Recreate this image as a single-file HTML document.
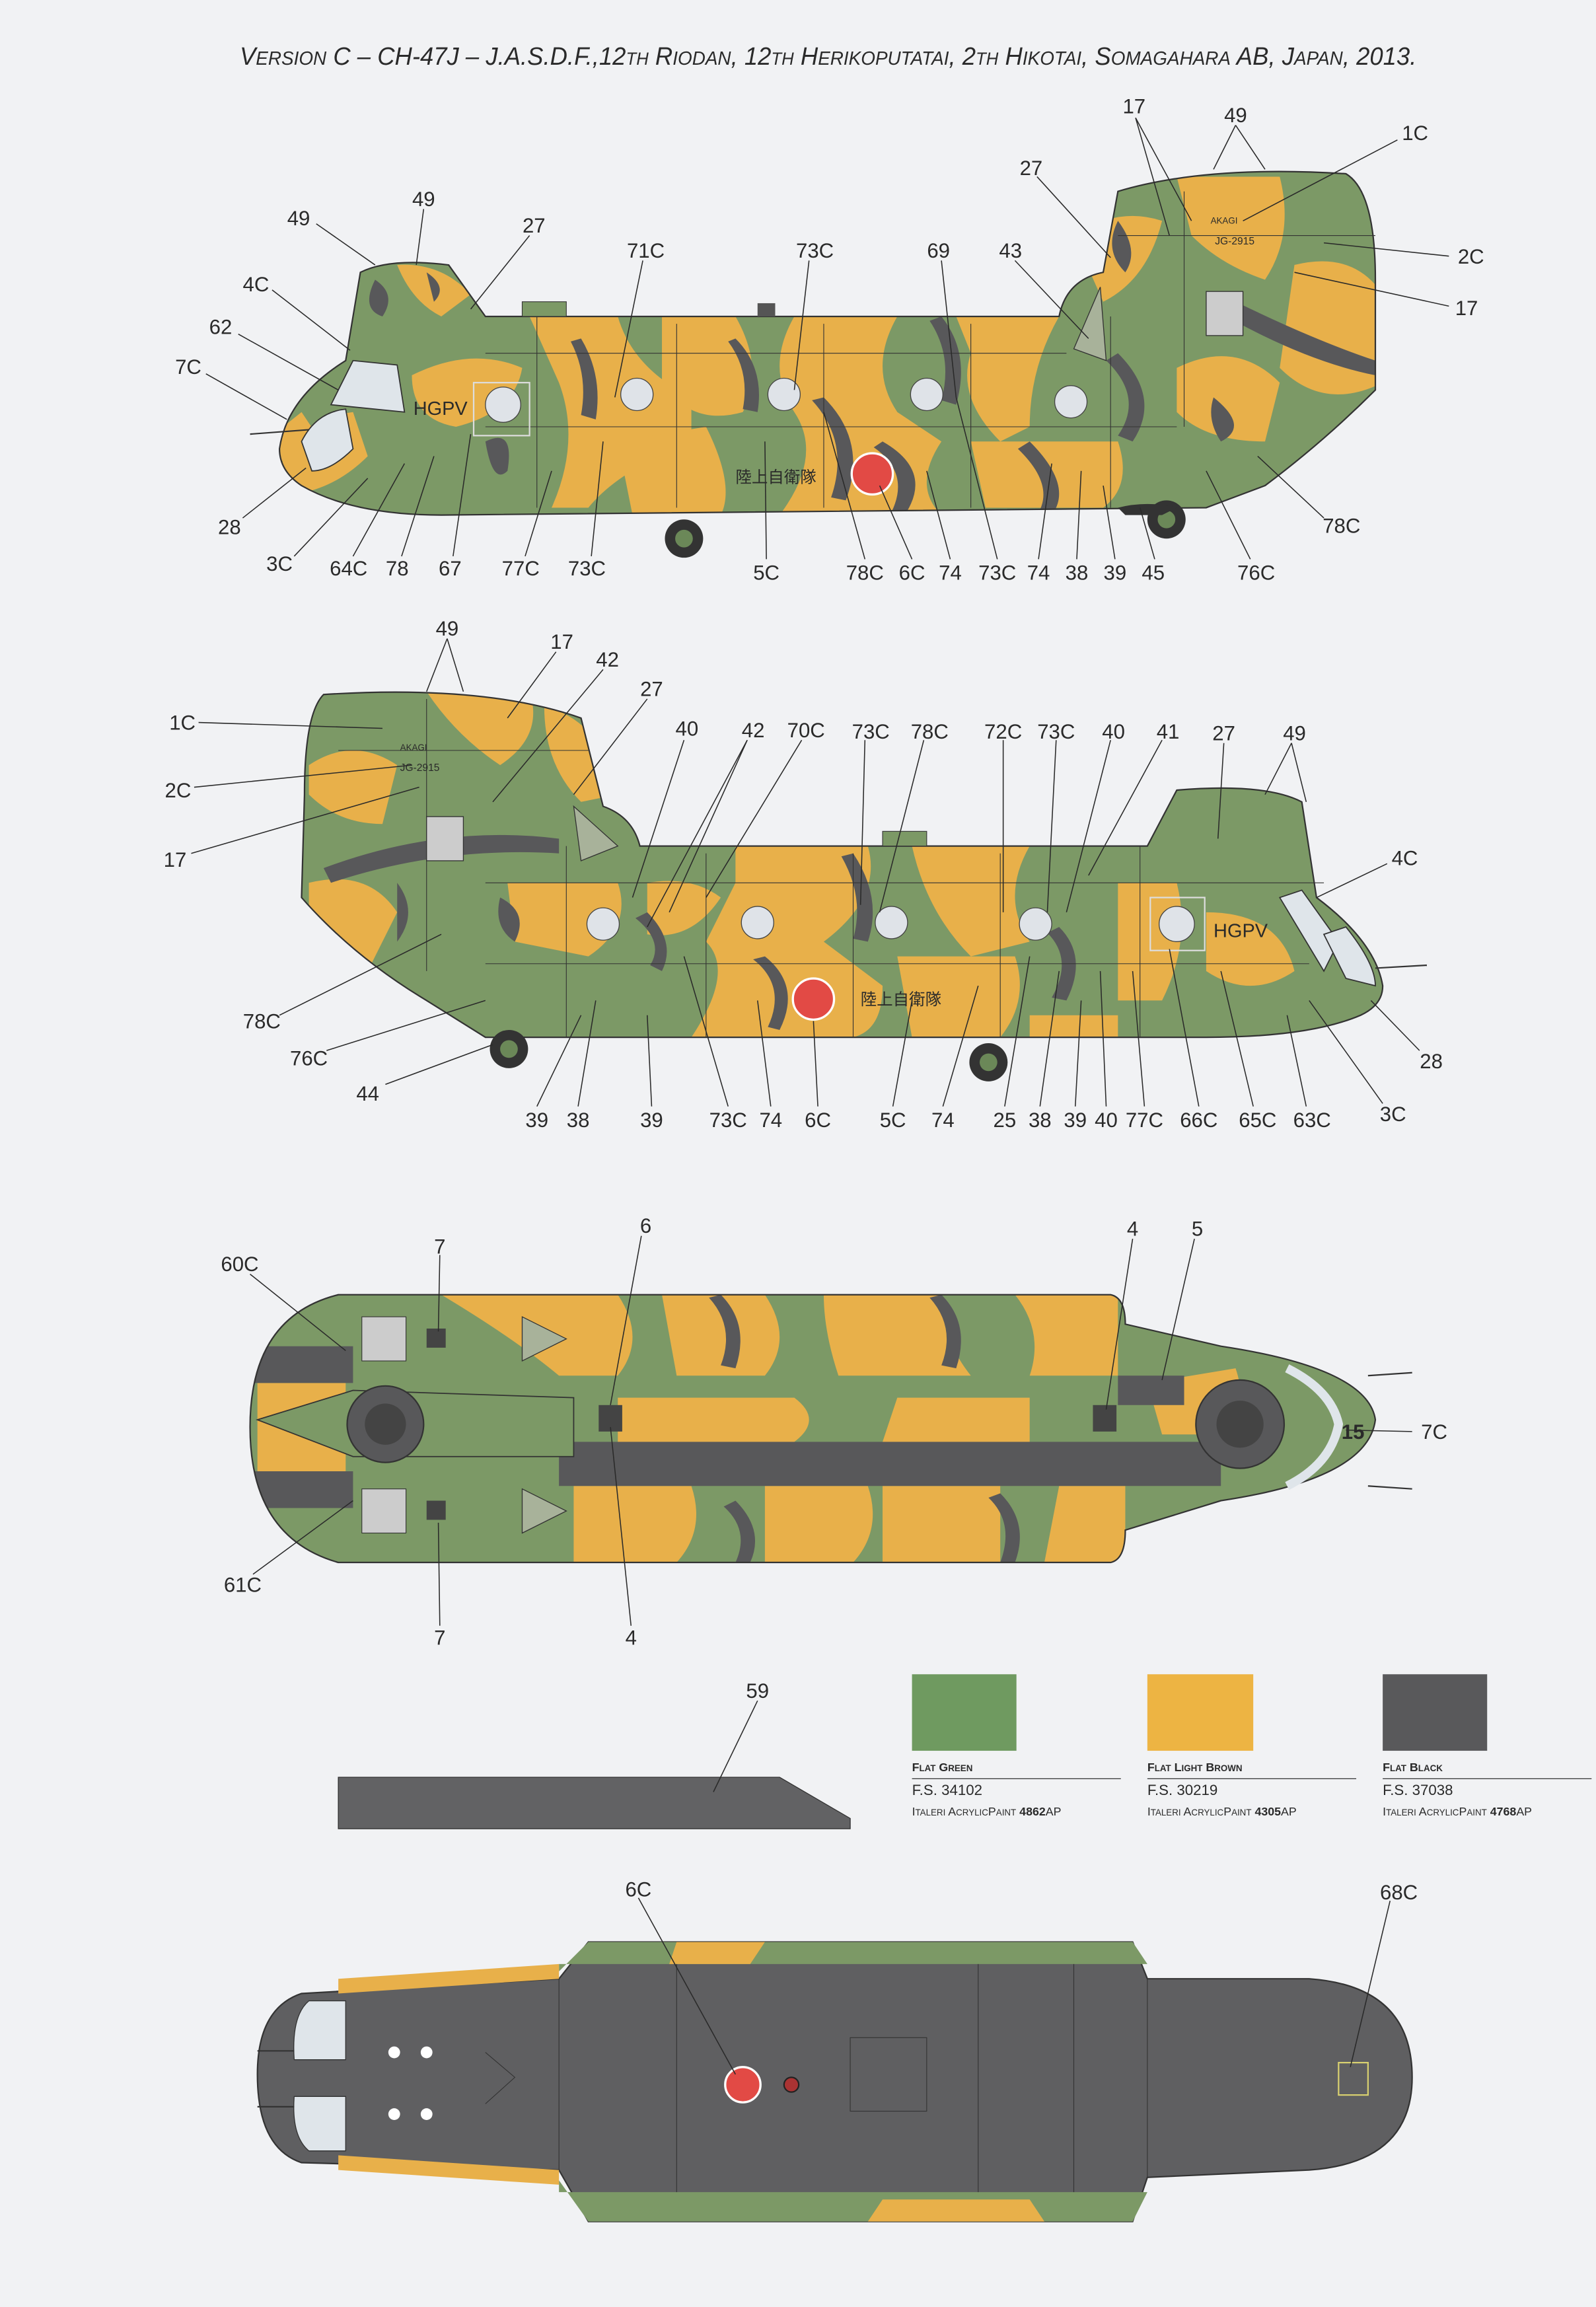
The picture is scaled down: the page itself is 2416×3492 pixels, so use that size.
<!DOCTYPE html>
<html><head><meta charset="utf-8"><style>
html,body{margin:0;padding:0;background:#f1f2f4;}
svg{display:block}
text{font-family:"Liberation Sans","Noto Sans CJK JP",sans-serif;fill:#2a2a2a}
</style></head><body>
<svg width="2416" height="3492" viewBox="0 0 1085 1568" xmlns="http://www.w3.org/2000/svg">
<defs>
<clipPath id="c1"><path d="M190 305 Q195 270 235 245 L245 185 Q265 175 305 180 L330 215 L720 215 Q725 190 750 185 L760 130 Q820 112 915 118 Q935 130 935 190 L935 265 Q900 300 860 330 L820 345 L300 350 Q240 350 205 330 Q190 320 190 305Z"/></clipPath>
<clipPath id="c2"><path d="M940 670 Q935 640 895 610 L885 545 Q860 532 800 537 L780 575 L435 575 Q430 555 410 548 L395 488 Q330 465 220 472 Q207 485 207 540 L205 610 Q240 650 290 680 L330 705 L820 705 Q890 705 925 690 Q940 683 940 670Z"/></clipPath>
<clipPath id="c3"><path d="M230 880 L755 880 Q765 882 765 900 L830 915 Q930 930 935 965 Q930 1005 830 1020 L765 1040 Q765 1060 755 1062 L230 1062 Q170 1045 170 970 Q170 895 230 880Z"/></clipPath>
</defs>

<text x="163" y="44" font-size="17" font-style="italic" textLength="800" lengthAdjust="spacingAndGlyphs">V<tspan font-size="13">ERSION</tspan> C – CH-47J – J.A.S.D.F.,12<tspan font-size="12">TH</tspan> R<tspan font-size="13">IODAN</tspan>, 12<tspan font-size="12">TH</tspan> H<tspan font-size="13">ERIKOPUTATAI</tspan>, 2<tspan font-size="12">TH</tspan> H<tspan font-size="13">IKOTAI</tspan>, S<tspan font-size="13">OMAGAHARA</tspan> AB, J<tspan font-size="13">APAN</tspan>, 2013.</text>

<!-- VIEW 1 -->
<g>
<g clip-path="url(#c1)">
<rect x="180" y="100" width="770" height="260" fill="#7c9966"/>
<path d="M190 320 Q200 285 240 280 L250 310 Q230 330 205 335Z" fill="#e8b04a"/>
<path d="M280 255 Q320 235 355 250 Q350 280 310 290 Q280 285 280 255Z" fill="#e8b04a"/>
<path d="M360 215 L420 215 Q430 250 470 270 L470 300 Q420 320 400 345 L375 345 Q395 300 380 260Z" fill="#e8b04a"/>
<path d="M450 215 L500 215 Q520 250 505 280 Q470 290 450 260Z" fill="#e8b04a"/>
<path d="M540 215 L610 215 Q590 250 610 280 L640 300 Q620 330 640 350 L530 350 Q560 310 540 280 Q520 250 540 215Z" fill="#e8b04a"/>
<path d="M650 215 L720 215 Q700 250 700 290 L680 300 Q650 270 660 240Z" fill="#e8b04a"/>
<path d="M420 300 L480 290 Q500 330 490 350 L430 350Z" fill="#e8b04a"/>
<path d="M660 300 L760 300 Q770 330 750 345 L670 345Z" fill="#e8b04a"/>
<path d="M730 160 Q760 140 790 150 Q780 190 750 205Z" fill="#e8b04a"/>
<path d="M800 120 L870 120 Q880 160 860 190 Q830 180 810 160Z" fill="#e8b04a"/>
<path d="M880 180 Q920 170 940 200 L940 260 Q900 280 870 250Z" fill="#e8b04a"/>
<path d="M800 250 Q840 230 870 260 L860 300 Q820 300 800 280Z" fill="#e8b04a"/>
<path d="M270 180 Q300 178 320 200 L300 215 Q280 205 270 180Z" fill="#e8b04a"/>
<path d="M255 190 Q270 200 260 215 Q245 210 255 190Z" fill="#58585a"/>
<path d="M290 185 Q305 195 295 205Z" fill="#58585a"/>
<path d="M395 230 Q410 255 405 285 L395 282 Q400 255 388 232Z" fill="#58585a"/>
<path d="M500 230 Q520 250 515 280 L505 278 Q510 252 495 232Z" fill="#58585a"/>
<path d="M560 270 Q590 300 575 340 L565 338 Q578 300 552 272Z" fill="#58585a"/>
<path d="M600 300 Q635 320 615 350 L605 350 Q620 322 594 304Z" fill="#58585a"/>
<path d="M640 215 Q660 240 650 275 L640 272 Q648 242 632 218Z" fill="#58585a"/>
<path d="M700 300 Q730 330 715 350 L705 350 Q718 330 692 305Z" fill="#58585a"/>
<path d="M760 240 Q790 270 770 300 L760 296 Q778 270 752 245Z" fill="#58585a"/>
<path d="M830 200 Q890 230 935 245 L935 255 Q885 245 825 210Z" fill="#58585a"/>
<path d="M825 270 Q850 290 830 300 Q820 285 825 270Z" fill="#58585a"/>
<path d="M330 300 Q350 290 345 320 Q335 330 330 300Z" fill="#58585a"/>
<path d="M760 150 Q775 170 765 185 Q750 170 760 150Z" fill="#58585a"/>
<path d="M180 300 L205 280 L215 295 L190 315Z" fill="#e8b04a"/>
</g>
<path d="M190 305 Q195 270 235 245 L245 185 Q265 175 305 180 L330 215 L720 215 Q725 190 750 185 L760 130 Q820 112 915 118 Q935 130 935 190 L935 265 Q900 300 860 330 L820 345 L300 350 Q240 350 205 330 Q190 320 190 305Z" fill="none" stroke="#333" stroke-width="1"/>
<g stroke="#333" stroke-width="0.5" fill="none">
<line x1="330" y1="240" x2="725" y2="240"/><line x1="330" y1="290" x2="800" y2="290"/>
<line x1="365" y1="215" x2="365" y2="345"/><line x1="460" y1="220" x2="460" y2="345"/><line x1="560" y1="220" x2="560" y2="345"/><line x1="660" y1="220" x2="660" y2="345"/><line x1="755" y1="215" x2="755" y2="345"/>
<line x1="805" y1="130" x2="805" y2="290"/><line x1="760" y1="160" x2="935" y2="160"/>
</g>
<path d="M225 275 L240 245 L270 248 L275 280 Z" fill="#dfe5ea" stroke="#333" stroke-width="0.8"/>
<path d="M205 300 Q215 280 235 278 L240 305 Q225 320 212 320Z" fill="#dfe5ea" stroke="#333" stroke-width="0.8"/>
<path d="M730 237 L748 195 L752 245Z" fill="#a8b29a" stroke="#333" stroke-width="0.6"/>
<rect x="820" y="198" width="25" height="30" fill="#ccc" stroke="#333" stroke-width="0.6"/>
<g fill="#dfe3e8" stroke="#444" stroke-width="0.6">
<circle cx="342" cy="275" r="12"/><circle cx="433" cy="268" r="11"/><circle cx="533" cy="268" r="11"/><circle cx="630" cy="268" r="11"/><circle cx="728" cy="273" r="11"/>
</g>
<rect x="322" y="260" width="38" height="36" fill="none" stroke="#ddd" stroke-width="1"/>
<circle cx="593" cy="322" r="14" fill="#e24a45" stroke="#fff" stroke-width="1.5"/>
<text x="500" y="328" font-size="11">陸上自衛隊</text>
<text x="281" y="282" font-size="13">HGPV</text>
<text x="823" y="152" font-size="6">AKAGI</text><text x="826" y="166" font-size="7">JG-2915</text>
<rect x="355" y="205" width="30" height="10" fill="#7c9966" stroke="#333" stroke-width="0.5"/>
<rect x="515" y="206" width="12" height="9" fill="#555"/>
<circle cx="465" cy="366" r="13" fill="#333"/><circle cx="465" cy="366" r="6" fill="#6b8858"/>
<circle cx="793" cy="353" r="13" fill="#333"/><circle cx="793" cy="353" r="6" fill="#6b8858"/>
<path d="M760 345 Q780 340 800 345 L790 350 L765 350Z" fill="#333"/>
<line x1="170" y1="295" x2="210" y2="292" stroke="#333" stroke-width="1"/>
</g>

<!-- VIEW 2 -->
<g>
<g clip-path="url(#c2)">
<rect x="200" y="460" width="750" height="260" fill="#7c9966"/>
<path d="M210 520 Q240 500 270 520 L260 560 Q230 560 210 540Z" fill="#e8b04a"/>
<path d="M210 600 Q250 590 270 620 L250 660 L210 640Z" fill="#e8b04a"/>
<path d="M290 470 L360 470 Q370 500 340 520 Q310 500 290 470Z" fill="#e8b04a"/>
<path d="M370 480 Q410 490 420 540 L395 545 Q370 520 370 480Z" fill="#e8b04a"/>
<path d="M345 600 L420 600 Q430 630 400 650 L350 640Z" fill="#e8b04a"/>
<path d="M440 600 Q470 595 490 610 Q470 640 440 635Z" fill="#e8b04a"/>
<path d="M500 575 L590 575 Q600 610 560 640 L600 670 Q600 700 580 705 L470 705 Q500 660 480 640 L500 600Z" fill="#e8b04a"/>
<path d="M620 575 L700 575 Q680 610 700 640 L660 650 Q630 620 620 575Z" fill="#e8b04a"/>
<path d="M610 650 L690 650 Q700 680 680 705 L620 705Z" fill="#e8b04a"/>
<path d="M760 600 L800 600 Q810 640 790 680 L760 680Z" fill="#e8b04a"/>
<path d="M820 620 Q870 620 880 660 Q850 680 820 660Z" fill="#e8b04a"/>
<path d="M700 690 L760 690 L760 705 L700 705Z" fill="#e8b04a"/>
<path d="M220 590 Q300 560 380 570 L380 580 Q300 575 225 600Z" fill="#58585a"/>
<path d="M340 610 Q360 620 350 640 Q335 630 340 610Z" fill="#58585a"/>
<path d="M580 580 Q600 610 590 640 L580 638 Q588 610 572 582Z" fill="#58585a"/>
<path d="M520 650 Q545 670 530 700 L522 698 Q535 670 512 652Z" fill="#58585a"/>
<path d="M720 630 Q740 650 725 680 L715 678 Q730 652 712 634Z" fill="#58585a"/>
<path d="M440 620 Q460 640 450 660 L442 656 Q452 640 432 624Z" fill="#58585a"/>
<path d="M270 600 Q285 620 270 640Z" fill="#58585a"/>
</g>
<path d="M940 670 Q935 640 895 610 L885 545 Q860 532 800 537 L780 575 L435 575 Q430 555 410 548 L395 488 Q330 465 220 472 Q207 485 207 540 L205 610 Q240 650 290 680 L330 705 L820 705 Q890 705 925 690 Q940 683 940 670Z" fill="none" stroke="#333" stroke-width="1"/>
<g stroke="#333" stroke-width="0.5" fill="none">
<line x1="330" y1="600" x2="900" y2="600"/><line x1="330" y1="655" x2="890" y2="655"/>
<line x1="385" y1="575" x2="385" y2="705"/><line x1="480" y1="580" x2="480" y2="705"/><line x1="580" y1="580" x2="580" y2="705"/><line x1="680" y1="580" x2="680" y2="705"/><line x1="775" y1="575" x2="775" y2="705"/>
<line x1="230" y1="510" x2="400" y2="510"/><line x1="290" y1="475" x2="290" y2="660"/>
</g>
<path d="M390 548 L420 575 L395 585Z" fill="#a8b29a" stroke="#333" stroke-width="0.6"/>
<rect x="290" y="555" width="25" height="30" fill="#ccc" stroke="#333" stroke-width="0.6"/>
<path d="M870 610 L885 605 L910 640 L900 660 Z" fill="#dfe5ea" stroke="#333" stroke-width="0.8"/>
<path d="M900 635 L915 630 Q935 655 935 670 L915 665Z" fill="#dfe5ea" stroke="#333" stroke-width="0.8"/>
<g fill="#dfe3e8" stroke="#444" stroke-width="0.6">
<circle cx="410" cy="628" r="11"/><circle cx="515" cy="627" r="11"/><circle cx="606" cy="627" r="11"/><circle cx="704" cy="628" r="11"/><circle cx="800" cy="628" r="12"/>
</g>
<rect x="782" y="610" width="37" height="36" fill="none" stroke="#ddd" stroke-width="1"/>
<circle cx="553" cy="679" r="14" fill="#e24a45" stroke="#fff" stroke-width="1.5"/>
<text x="585" y="683" font-size="11">陸上自衛隊</text>
<text x="825" y="637" font-size="13">HGPV</text>
<text x="272" y="510" font-size="6">AKAGI</text><text x="272" y="524" font-size="7">JG-2915</text>
<rect x="600" y="565" width="30" height="10" fill="#7c9966" stroke="#333" stroke-width="0.5"/>
<circle cx="346" cy="713" r="13" fill="#333"/><circle cx="346" cy="713" r="6" fill="#6b8858"/>
<circle cx="672" cy="722" r="13" fill="#333"/><circle cx="672" cy="722" r="6" fill="#6b8858"/>
<line x1="935" y1="658" x2="970" y2="656" stroke="#333" stroke-width="1"/>
</g>

<!-- VIEW 3 top -->
<g>
<g clip-path="url(#c3)">
<rect x="160" y="870" width="790" height="200" fill="#7c9966"/>
<path d="M300 880 L420 880 Q440 910 420 935 L380 935 Q350 910 300 880Z" fill="#e8b04a"/>
<path d="M450 880 L520 880 Q540 910 520 935 L460 935Z" fill="#e8b04a"/>
<path d="M560 880 L640 880 Q640 910 660 935 L570 935 Q560 905 560 880Z" fill="#e8b04a"/>
<path d="M690 880 L760 880 L760 935 L700 935 Q710 905 690 880Z" fill="#e8b04a"/>
<path d="M420 950 L540 950 Q560 965 540 980 L420 980Z" fill="#e8b04a"/>
<path d="M610 950 L700 950 L700 980 L600 980Z" fill="#e8b04a"/>
<path d="M390 1010 L470 1010 Q480 1040 460 1062 L390 1062Z" fill="#e8b04a"/>
<path d="M520 1010 L590 1010 Q600 1040 580 1062 L520 1062Z" fill="#e8b04a"/>
<path d="M600 1010 L680 1010 L680 1062 L600 1062Z" fill="#e8b04a"/>
<path d="M720 1010 L765 1010 L765 1062 L710 1062Z" fill="#e8b04a"/>
<path d="M780 940 L840 930 Q850 960 830 975 L790 975Z" fill="#e8b04a"/>
<path d="M175 940 L235 940 L235 1000 L175 1000Z" fill="#e8b04a"/>
<path d="M490 880 Q510 900 500 930 L490 928 Q500 902 482 882Z" fill="#58585a"/>
<path d="M640 880 Q660 900 650 930 L640 928 Q650 902 632 882Z" fill="#58585a"/>
<path d="M500 1020 Q520 1040 510 1062 L500 1062 Q510 1040 492 1024Z" fill="#58585a"/>
<path d="M680 1015 Q700 1035 690 1062 L680 1062 Q690 1035 672 1018Z" fill="#58585a"/>
<rect x="380" y="980" width="450" height="30" fill="#58585a"/>
<rect x="760" y="935" width="45" height="20" fill="#58585a"/>
<path d="M170 915 L240 915 L240 940 L170 940Z" fill="#58585a"/>
<path d="M170 1000 L240 1000 L240 1025 L170 1025Z" fill="#58585a"/>
</g>
<path d="M230 880 L755 880 Q765 882 765 900 L830 915 Q930 930 935 965 Q930 1005 830 1020 L765 1040 Q765 1060 755 1062 L230 1062 Q170 1045 170 970 Q170 895 230 880Z" fill="none" stroke="#333" stroke-width="1"/>
<path d="M175 965 L240 945 L390 950 L390 990 L240 990 Z" fill="#7c9966" stroke="#333" stroke-width="0.8"/>
<circle cx="262" cy="968" r="26" fill="#58585a" stroke="#333"/><circle cx="262" cy="968" r="14" fill="#444"/>
<circle cx="843" cy="968" r="30" fill="#58585a" stroke="#333"/><circle cx="843" cy="968" r="16" fill="#444"/>
<path d="M355 895 L385 910 L355 925Z" fill="#a8b29a" stroke="#333" stroke-width="0.6"/>
<path d="M355 1012 L385 1027 L355 1042Z" fill="#a8b29a" stroke="#333" stroke-width="0.6"/>
<rect x="246" y="895" width="30" height="30" fill="#ccc" stroke="#333" stroke-width="0.5"/>
<rect x="246" y="1012" width="30" height="30" fill="#ccc" stroke="#333" stroke-width="0.5"/>
<rect x="290" y="903" width="13" height="13" fill="#444"/><rect x="290" y="1020" width="13" height="13" fill="#444"/>
<rect x="407" y="955" width="16" height="18" fill="#444"/><rect x="743" y="955" width="16" height="18" fill="#444"/>
<path d="M875 930 Q905 945 910 968 Q905 995 875 1010" fill="none" stroke="#dfe5ea" stroke-width="6"/>
<text x="912" y="978" font-size="14" font-weight="bold">15</text>
<line x1="930" y1="935" x2="960" y2="933" stroke="#333"/><line x1="930" y1="1010" x2="960" y2="1012" stroke="#333"/>
</g>

<!-- Paint chips -->
<rect x="620" y="1138" width="71" height="52" fill="#6f9a60"/>
<rect x="780" y="1138" width="72" height="52" fill="#edb443"/>
<rect x="940" y="1138" width="71" height="52" fill="#59595b"/>
<g font-size="8">
<line x1="620" y1="1209" x2="762" y2="1209" stroke="#333" stroke-width="0.6"/>
<line x1="780" y1="1209" x2="922" y2="1209" stroke="#333" stroke-width="0.6"/>
<line x1="940" y1="1209" x2="1082" y2="1209" stroke="#333" stroke-width="0.6"/>
<text x="620" y="1204" font-weight="bold">F<tspan font-size="6">LAT</tspan> G<tspan font-size="6">REEN</tspan></text>
<text x="620" y="1220" font-size="10">F.S. 34102</text>
<text x="620" y="1234">I<tspan font-size="6">TALERI</tspan> A<tspan font-size="6">CRYLIC</tspan>P<tspan font-size="6">AINT</tspan> <tspan font-weight="bold">4862</tspan>AP</text>
<text x="780" y="1204" font-weight="bold">F<tspan font-size="6">LAT</tspan> L<tspan font-size="6">IGHT</tspan> B<tspan font-size="6">ROWN</tspan></text>
<text x="780" y="1220" font-size="10">F.S. 30219</text>
<text x="780" y="1234">I<tspan font-size="6">TALERI</tspan> A<tspan font-size="6">CRYLIC</tspan>P<tspan font-size="6">AINT</tspan> <tspan font-weight="bold">4305</tspan>AP</text>
<text x="940" y="1204" font-weight="bold">F<tspan font-size="6">LAT</tspan> B<tspan font-size="6">LACK</tspan></text>
<text x="940" y="1220" font-size="10">F.S. 37038</text>
<text x="940" y="1234">I<tspan font-size="6">TALERI</tspan> A<tspan font-size="6">CRYLIC</tspan>P<tspan font-size="6">AINT</tspan> <tspan font-weight="bold">4768</tspan>AP</text>
</g>

<!-- Part 59 -->
<path d="M230 1208 L530 1208 L578 1236 L578 1243 L230 1243Z" fill="#626264" stroke="#333" stroke-width="0.6"/>

<!-- Bottom view -->
<path d="M205 1355 Q175 1365 175 1410 Q175 1460 205 1470 L380 1475 L400 1510 L770 1510 L780 1480 L890 1475 Q960 1470 960 1412 Q960 1350 890 1345 L780 1345 L770 1320 L400 1320 L380 1345Z" fill="#5f5f61" stroke="#333" stroke-width="1"/>
<path d="M380 1340 L400 1320 L770 1320 L780 1335 L380 1335Z" fill="#7c9966"/>
<path d="M380 1482 L400 1510 L770 1510 L780 1490 L380 1490Z" fill="#7c9966"/>
<path d="M230 1345 L380 1335 L380 1345 L230 1355Z" fill="#e8b04a"/>
<path d="M230 1465 L380 1475 L380 1485 L230 1475Z" fill="#e8b04a"/>
<path d="M460 1320 L520 1320 L510 1335 L455 1335Z" fill="#e8b04a"/>
<path d="M600 1495 L700 1495 L710 1510 L590 1510Z" fill="#e8b04a"/>
<path d="M210 1360 L235 1360 L235 1400 L200 1400 Q198 1370 210 1360Z" fill="#dfe5ea" stroke="#333" stroke-width="0.6"/>
<path d="M200 1425 L235 1425 L235 1462 L210 1462 Q198 1452 200 1425Z" fill="#dfe5ea" stroke="#333" stroke-width="0.6"/>
<g stroke="#333" stroke-width="0.5" fill="none">
<line x1="380" y1="1345" x2="380" y2="1475"/><line x1="460" y1="1335" x2="460" y2="1490"/><line x1="665" y1="1335" x2="665" y2="1490"/><line x1="730" y1="1335" x2="730" y2="1490"/><line x1="780" y1="1345" x2="780" y2="1480"/>
<rect x="578" y="1385" width="52" height="50"/>
<path d="M330 1395 L350 1412 L330 1430"/>
</g>
<circle cx="505" cy="1417" r="12" fill="#e24a45" stroke="#fff" stroke-width="1.5"/>
<circle cx="538" cy="1417" r="5" fill="#a33" stroke="#222"/>
<rect x="910" y="1402" width="20" height="22" fill="none" stroke="#d8d070" stroke-width="1"/>
<g fill="#fff"><circle cx="268" cy="1395" r="4"/><circle cx="290" cy="1395" r="4"/><circle cx="268" cy="1437" r="4"/><circle cx="290" cy="1437" r="4"/></g>
<line x1="175" y1="1394" x2="200" y2="1394" stroke="#333"/><line x1="175" y1="1432" x2="200" y2="1432" stroke="#333"/>

<!-- Leader lines -->
<g stroke="#2a2a2a" stroke-width="0.7" fill="none">
<line x1="288" y1="142" x2="283" y2="180"/><line x1="215" y1="152" x2="255" y2="180"/><line x1="360" y1="160" x2="320" y2="210"/>
<line x1="185" y1="197" x2="238" y2="238"/><line x1="162" y1="227" x2="230" y2="265"/><line x1="140" y1="254" x2="195" y2="285"/>
<line x1="165" y1="352" x2="208" y2="318"/><line x1="200" y1="378" x2="250" y2="325"/><line x1="240" y1="378" x2="275" y2="315"/>
<line x1="273" y1="378" x2="295" y2="310"/><line x1="308" y1="378" x2="320" y2="295"/><line x1="357" y1="378" x2="375" y2="320"/><line x1="402" y1="378" x2="410" y2="300"/>
<line x1="437" y1="177" x2="418" y2="270"/><line x1="550" y1="177" x2="540" y2="265"/><line x1="640" y1="177" x2="650" y2="270"/><line x1="690" y1="177" x2="740" y2="230"/>
<line x1="705" y1="120" x2="755" y2="175"/><line x1="772" y1="80" x2="795" y2="160"/><line x1="772" y1="80" x2="810" y2="150"/>
<line x1="840" y1="85" x2="825" y2="115"/><line x1="840" y1="85" x2="860" y2="115"/><line x1="950" y1="95" x2="845" y2="150"/>
<line x1="985" y1="174" x2="900" y2="165"/><line x1="985" y1="208" x2="880" y2="185"/><line x1="900" y1="352" x2="855" y2="310"/>
<line x1="850" y1="380" x2="820" y2="320"/><line x1="785" y1="380" x2="775" y2="345"/><line x1="758" y1="380" x2="750" y2="330"/><line x1="732" y1="380" x2="735" y2="320"/>
<line x1="706" y1="380" x2="715" y2="315"/><line x1="678" y1="380" x2="650" y2="270"/><line x1="646" y1="380" x2="630" y2="320"/><line x1="620" y1="380" x2="598" y2="330"/>
<line x1="588" y1="380" x2="560" y2="280"/><line x1="521" y1="380" x2="520" y2="300"/>
<line x1="304" y1="434" x2="290" y2="470"/><line x1="304" y1="434" x2="315" y2="470"/><line x1="378" y1="443" x2="345" y2="488"/><line x1="410" y1="455" x2="335" y2="545"/><line x1="440" y1="475" x2="390" y2="540"/>
<line x1="135" y1="491" x2="260" y2="495"/><line x1="132" y1="535" x2="280" y2="520"/><line x1="130" y1="580" x2="285" y2="535"/>
<line x1="465" y1="503" x2="430" y2="610"/><line x1="508" y1="503" x2="440" y2="630"/><line x1="508" y1="503" x2="455" y2="620"/><line x1="545" y1="503" x2="480" y2="610"/>
<line x1="588" y1="503" x2="585" y2="615"/><line x1="628" y1="503" x2="598" y2="620"/><line x1="682" y1="503" x2="682" y2="620"/><line x1="718" y1="503" x2="712" y2="620"/>
<line x1="755" y1="503" x2="725" y2="620"/><line x1="790" y1="503" x2="740" y2="595"/><line x1="832" y1="505" x2="828" y2="570"/><line x1="878" y1="505" x2="860" y2="540"/><line x1="878" y1="505" x2="888" y2="545"/>
<line x1="943" y1="587" x2="895" y2="610"/><line x1="965" y1="714" x2="932" y2="680"/><line x1="940" y1="750" x2="890" y2="680"/><line x1="888" y1="752" x2="875" y2="690"/>
<line x1="852" y1="752" x2="830" y2="660"/><line x1="815" y1="752" x2="795" y2="645"/><line x1="778" y1="752" x2="770" y2="660"/><line x1="752" y1="752" x2="748" y2="660"/>
<line x1="731" y1="752" x2="735" y2="680"/><line x1="707" y1="752" x2="720" y2="660"/><line x1="683" y1="752" x2="700" y2="650"/><line x1="641" y1="752" x2="665" y2="670"/>
<line x1="607" y1="752" x2="620" y2="680"/><line x1="556" y1="752" x2="553" y2="694"/><line x1="524" y1="752" x2="515" y2="680"/><line x1="495" y1="752" x2="465" y2="650"/>
<line x1="443" y1="752" x2="440" y2="690"/><line x1="393" y1="752" x2="405" y2="680"/><line x1="365" y1="752" x2="395" y2="690"/>
<line x1="262" y1="737" x2="335" y2="710"/><line x1="222" y1="714" x2="330" y2="680"/><line x1="190" y1="690" x2="300" y2="635"/>
<line x1="436" y1="840" x2="415" y2="955"/><line x1="299" y1="853" x2="298" y2="905"/><line x1="770" y1="842" x2="752" y2="958"/><line x1="812" y1="842" x2="790" y2="938"/>
<line x1="170" y1="866" x2="235" y2="918"/><line x1="960" y1="973" x2="915" y2="972"/><line x1="172" y1="1070" x2="240" y2="1020"/>
<line x1="299" y1="1105" x2="298" y2="1035"/><line x1="429" y1="1105" x2="415" y2="970"/>
<line x1="515" y1="1156" x2="485" y2="1218"/><line x1="434" y1="1290" x2="500" y2="1410"/><line x1="945" y1="1292" x2="918" y2="1405"/>
</g>

<!-- Labels -->
<g font-size="14" text-anchor="middle">
<text x="288" y="140">49</text><text x="203" y="153">49</text><text x="363" y="158">27</text><text x="174" y="198">4C</text><text x="150" y="227">62</text><text x="128" y="254">7C</text>
<text x="156" y="363">28</text><text x="190" y="388">3C</text><text x="237" y="391">64C</text><text x="270" y="391">78</text><text x="306" y="391">67</text><text x="354" y="391">77C</text><text x="399" y="391">73C</text>
<text x="439" y="175">71C</text><text x="554" y="175">73C</text><text x="638" y="175">69</text><text x="687" y="175">43</text><text x="701" y="119">27</text><text x="771" y="77">17</text><text x="840" y="83">49</text><text x="962" y="95">1C</text><text x="1000" y="179">2C</text><text x="997" y="214">17</text>
<text x="912" y="362">78C</text><text x="854" y="394">76C</text><text x="784" y="394">45</text><text x="758" y="394">39</text><text x="732" y="394">38</text><text x="706" y="394">74</text><text x="678" y="394">73C</text><text x="646" y="394">74</text><text x="620" y="394">6C</text><text x="588" y="394">78C</text><text x="521" y="394">5C</text>
<text x="304" y="432">49</text><text x="382" y="441">17</text><text x="413" y="453">42</text><text x="443" y="473">27</text><text x="124" y="496">1C</text><text x="121" y="542">2C</text><text x="119" y="589">17</text>
<text x="467" y="500">40</text><text x="512" y="501">42</text><text x="548" y="501">70C</text><text x="592" y="502">73C</text><text x="632" y="502">78C</text><text x="682" y="502">72C</text><text x="718" y="502">73C</text><text x="757" y="502">40</text><text x="794" y="502">41</text><text x="832" y="503">27</text><text x="880" y="503">49</text>
<text x="955" y="588">4C</text><text x="973" y="726">28</text><text x="947" y="762">3C</text><text x="892" y="766">63C</text><text x="855" y="766">65C</text><text x="815" y="766">66C</text><text x="778" y="766">77C</text><text x="752" y="766">40</text><text x="731" y="766">39</text><text x="707" y="766">38</text><text x="683" y="766">25</text><text x="641" y="766">74</text><text x="607" y="766">5C</text><text x="556" y="766">6C</text><text x="524" y="766">74</text><text x="495" y="766">73C</text><text x="443" y="766">39</text><text x="393" y="766">38</text><text x="365" y="766">39</text>
<text x="250" y="748">44</text><text x="210" y="724">76C</text><text x="178" y="699">78C</text>
<text x="439" y="838">6</text><text x="299" y="852">7</text><text x="770" y="840">4</text><text x="814" y="840">5</text><text x="163" y="864">60C</text><text x="975" y="978">7C</text><text x="165" y="1082">61C</text><text x="299" y="1118">7</text><text x="429" y="1118">4</text>
<text x="515" y="1154">59</text><text x="434" y="1289">6C</text><text x="951" y="1291">68C</text>
</g>
</svg>
</body></html>
